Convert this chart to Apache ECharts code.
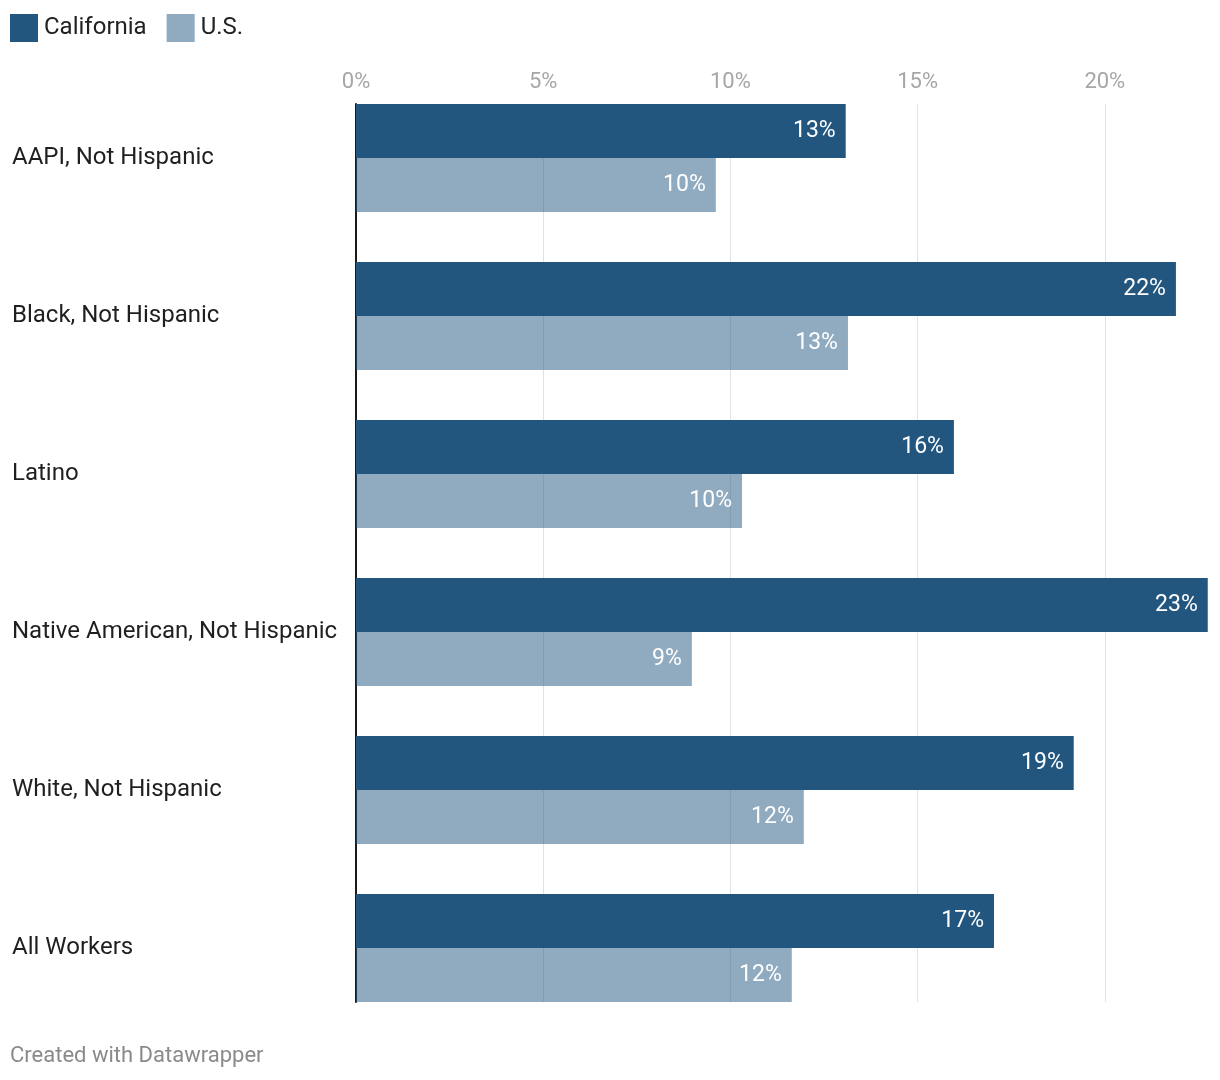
<!DOCTYPE html>
<html>
<head>
<meta charset="utf-8">
<script src="https://cdn.jsdelivr.net/npm/echarts@6/dist/echarts.min.js"></script>
<style>
html,body{margin:0;padding:0;background:#fff;}
#chart{width:1220px;height:1080px;}
</style>
</head>
<body>
<div id="chart"></div>
<script>
const categories = ['AAPI, Not Hispanic', 'Black, Not Hispanic', 'Latino', 'Native American, Not Hispanic', 'White, Not Hispanic', 'All Workers'];
const california = [13.08, 21.9, 15.97, 22.75, 19.17, 17.04];
const us = [9.61, 13.14, 10.31, 8.97, 11.96, 11.64];
const seriesNames = ['California', 'U.S.'];
const footer = 'Created with Datawrapper';

const FONT = 'Roboto, "Noto Sans", sans-serif';
const AXIS_MAX = 25;
const GRID_W = 936;

const chart = echarts.init(document.getElementById('chart'));
chart.setOption({
  animation: false,
  backgroundColor: '#ffffff',
  textStyle: { fontFamily: FONT },
  legend: {
    left: 10, top: 14, padding: 0,
    icon: 'rect', itemWidth: 28, itemHeight: 28, itemGap: 20,
    textStyle: { fontSize: 24, color: '#222222', fontFamily: FONT, padding: [0, 0, 0, 1] },
    data: seriesNames
  },
  grid: [
    { left: 356, top: 79, width: GRID_W, height: 948, outerBoundsMode: 'none', containLabel: false },
    { left: 356, top: 104, width: GRID_W, height: 898, outerBoundsMode: 'none', containLabel: false }
  ],
  xAxis: [
    { type: 'value', gridIndex: 0, min: 0, max: AXIS_MAX, interval: 5, show: false },
    {
      type: 'value', gridIndex: 1, min: 0, max: AXIS_MAX, interval: 5, position: 'top',
      axisLine: { show: false }, axisTick: { show: false },
      axisLabel: { color: '#a6a6a6', fontSize: 22, margin: 11, fontFamily: FONT, formatter: v => v + '%' },
      splitLine: { show: true, lineStyle: { color: '#e2e2e2', width: 1 } }
    }
  ],
  yAxis: [
    {
      type: 'category', gridIndex: 0, data: categories, inverse: true,
      axisLine: { show: false }, axisTick: { show: false }, splitLine: { show: false },
      axisLabel: { align: 'left', margin: 344, fontSize: 24, color: '#1f1f1f', fontFamily: FONT, padding: [2, 0, 0, 0] }
    },
    {
      type: 'value', gridIndex: 1, min: 0, max: 1,
      axisLine: { show: true, lineStyle: { color: '#1a1a1a', width: 2 } },
      axisTick: { show: false }, axisLabel: { show: false }, splitLine: { show: false }
    }
  ],
  series: [
    {
      name: seriesNames[0], type: 'bar', xAxisIndex: 0, yAxisIndex: 0,
      data: california, barWidth: 54, barGap: '0%',
      itemStyle: { color: '#22567f' },
      label: { show: true, position: 'insideRight', distance: 10, color: '#ffffff', fontSize: 23, fontFamily: FONT,
        padding: [2, 0, 0, 0], formatter: p => Math.round(p.value) + '%' }
    },
    {
      name: seriesNames[1], type: 'bar', xAxisIndex: 0, yAxisIndex: 0,
      data: us, barWidth: 54, barGap: '0%',
      itemStyle: { color: 'rgba(34,86,127,0.5)' },
      label: { show: true, position: 'insideRight', distance: 10, color: '#ffffff', fontSize: 23, fontFamily: FONT,
        padding: [2, 0, 0, 0], formatter: p => Math.round(p.value) + '%' }
    }
  ],
  graphic: [
    { type: 'text', left: 10, top: 1045, style: { text: footer, fill: '#8a8a8a', fontSize: 22, fontFamily: FONT } }
  ]
});
</script>
</body>
</html>
